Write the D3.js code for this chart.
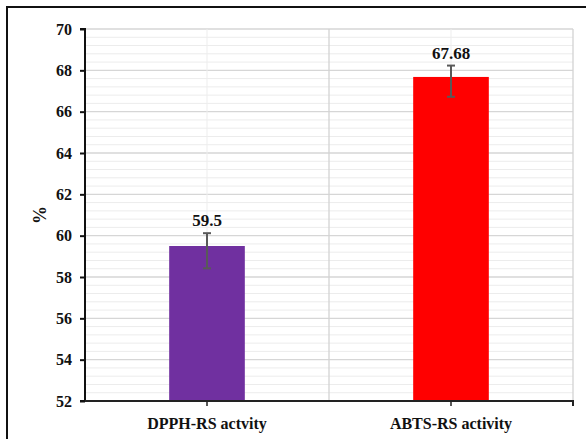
<!DOCTYPE html>
<html>
<head>
<meta charset="utf-8">
<script src="https://cdn.jsdelivr.net/npm/d3@7"></script>
<style>
  body { margin: 0; background: #fff; }
  text { font-family: 'Liberation Serif', 'Times New Roman', serif; font-weight: bold; fill: #111; }
</style>
</head>
<body>
<div id="chart"></div>
<script>
// data
var categories = ['DPPH-RS actvity', 'ABTS-RS activity']
var values = [59.5, 67.68]
var errUp = [0.62, 0.55]
var errDown = [1.08, 0.96]
var barColors = ['#7030a0', '#ff0000']
var yTicks = [52, 54, 56, 58, 60, 62, 64, 66, 68, 70]

var svgWidth = 586
var svgHeight = 439
var margin = { top: 29, right: 13, bottom: 38, left: 85 }
var chartWidth = svgWidth - margin.left - margin.right
var chartHeight = svgHeight - margin.top - margin.bottom

var svg = d3.select('#chart')
  .append('svg')
  .attr('width', svgWidth)
  .attr('height', svgHeight)

// outer frame (left and top only visible)
svg.append('line').attr('x1', 7).attr('y1', 7).attr('x2', 7).attr('y2', svgHeight)
  .attr('stroke', '#111').attr('stroke-width', 2)
svg.append('line').attr('x1', 6).attr('y1', 7).attr('x2', svgWidth).attr('y2', 7)
  .attr('stroke', '#111').attr('stroke-width', 2)

var chartGroup = svg.append('g')
  .attr('transform', `translate(${margin.left}, ${margin.top})`)

var yScale = d3.scaleLinear().domain([52, 70]).range([chartHeight, 0])
var xScale = d3.scaleBand().domain(categories).range([0, chartWidth]).padding(0)

// minor horizontal gridlines
var minor = d3.range(52, 70.001, 0.4).filter(v => Math.abs(v / 2 - Math.round(v / 2)) > 0.01)
chartGroup.selectAll('.minor')
  .data(minor)
  .enter()
  .append('line')
  .attr('x1', 0).attr('x2', chartWidth)
  .attr('y1', d => yScale(d)).attr('y2', d => yScale(d))
  .attr('stroke', '#ececec').attr('stroke-width', 1)

// major horizontal gridlines
chartGroup.selectAll('.major')
  .data(yTicks)
  .enter()
  .append('line')
  .attr('x1', 0).attr('x2', chartWidth)
  .attr('y1', d => yScale(d)).attr('y2', d => yScale(d))
  .attr('stroke', '#d6d6d6').attr('stroke-width', 1.3)

// vertical gridlines: faint at category centres, darker at boundaries
chartGroup.selectAll('.vcenter')
  .data(categories)
  .enter()
  .append('line')
  .attr('x1', d => xScale(d) + xScale.bandwidth() / 2)
  .attr('x2', d => xScale(d) + xScale.bandwidth() / 2)
  .attr('y1', 0).attr('y2', chartHeight)
  .attr('stroke', '#ededed').attr('stroke-width', 1)

chartGroup.selectAll('.vbound')
  .data(categories)
  .enter()
  .append('line')
  .attr('x1', d => xScale(d) + xScale.bandwidth())
  .attr('x2', d => xScale(d) + xScale.bandwidth())
  .attr('y1', 0).attr('y2', chartHeight)
  .attr('stroke', '#d3d3d3').attr('stroke-width', 1.3)

// bars
var barW = xScale.bandwidth() * 0.31
chartGroup.selectAll('.bar')
  .data(values)
  .enter()
  .append('rect')
  .attr('x', (d, i) => xScale(categories[i]) + xScale.bandwidth() / 2 - barW / 2)
  .attr('width', barW)
  .attr('y', d => yScale(d))
  .attr('height', d => chartHeight - yScale(d))
  .attr('fill', (d, i) => barColors[i])

// error bars
var errGroup = chartGroup.selectAll('.err')
  .data(values)
  .enter()
  .append('g')
  .attr('transform', (d, i) => `translate(${xScale(categories[i]) + xScale.bandwidth() / 2}, 0)`)
errGroup.append('line')
  .attr('x1', 0).attr('x2', 0)
  .attr('y1', (d, i) => yScale(d + errUp[i]))
  .attr('y2', (d, i) => yScale(d - errDown[i]))
  .attr('stroke', '#595959').attr('stroke-width', 2)
errGroup.append('line')
  .attr('x1', -4).attr('x2', 4)
  .attr('y1', (d, i) => yScale(d + errUp[i]))
  .attr('y2', (d, i) => yScale(d + errUp[i]))
  .attr('stroke', '#595959').attr('stroke-width', 2)
errGroup.append('line')
  .attr('x1', -4).attr('x2', 4)
  .attr('y1', (d, i) => yScale(d - errDown[i]))
  .attr('y2', (d, i) => yScale(d - errDown[i]))
  .attr('stroke', '#595959').attr('stroke-width', 2)

// value labels
chartGroup.selectAll('.valLabel')
  .data(values)
  .enter()
  .append('text')
  .attr('x', (d, i) => xScale(categories[i]) + xScale.bandwidth() / 2)
  .attr('y', (d, i) => yScale(d + errUp[i]) - 7)
  .attr('text-anchor', 'middle')
  .attr('font-size', '17px')
  .text(d => d)

// y axis
var leftAxis = d3.axisLeft(yScale).tickValues(yTicks).tickSize(5).tickPadding(8)
var yAxis = chartGroup.append('g').call(leftAxis)
yAxis.select('.domain').attr('stroke', '#111').attr('stroke-width', 2)
  .attr('d', `M-5,${chartHeight}H0V0H-5`)
yAxis.selectAll('.tick line').attr('stroke', '#111').attr('stroke-width', 2)
yAxis.selectAll('.tick text')
  .attr('font-size', '16px')
  .attr('font-family', "'Liberation Serif', 'Times New Roman', serif")
  .attr('font-weight', 'bold')
  .attr('fill', '#111')

// x axis
var bottomAxis = d3.axisBottom(xScale).tickSize(5).tickPadding(12).tickSizeOuter(5)
var xAxis = chartGroup.append('g')
  .attr('transform', `translate(0, ${chartHeight})`)
  .call(bottomAxis)
xAxis.select('.domain').attr('stroke', '#222').attr('stroke-width', 2)
  .attr('d', `M0,0H${chartWidth}V5`)
xAxis.selectAll('.tick line').attr('stroke', '#222').attr('stroke-width', 1.5)
xAxis.selectAll('.tick text')
  .attr('font-size', '16px')
  .attr('font-family', "'Liberation Serif', 'Times New Roman', serif")
  .attr('font-weight', 'bold')
  .attr('fill', '#111')

// y axis title
svg.append('text')
  .attr('transform', `translate(46, 215) rotate(-90)`)
  .attr('text-anchor', 'middle')
  .attr('font-size', '18px')
  .text('%')
</script>
</body>
</html>
